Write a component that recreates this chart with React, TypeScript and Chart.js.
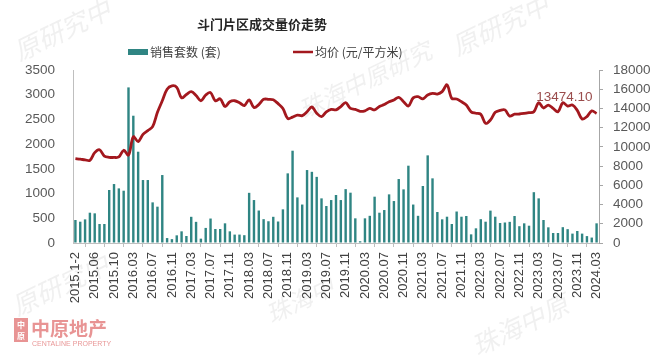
import React, { useEffect, useRef } from 'react';
import { Chart, registerables } from 'chart.js';

Chart.register(...registerables);

const titleText = '斗门片区成交量价走势';
const barLegend = '销售套数 (套)';
const lineLegend = '均价 (元/平方米)';
const lastLabel = '13474.10';

const categories = [
  '2015.1-2', '2015.03', '2015.04', '2015.05', '2015.06', '2015.07', '2015.08', '2015.09', '2015.10', '2015.11', '2015.12',
  '2016.1-2', '2016.03', '2016.04', '2016.05', '2016.06', '2016.07', '2016.08', '2016.09', '2016.10', '2016.11', '2016.12',
  '2017.01', '2017.02', '2017.03', '2017.04', '2017.05', '2017.06', '2017.07', '2017.08', '2017.09', '2017.10', '2017.11', '2017.12',
  '2018.01', '2018.02', '2018.03', '2018.04', '2018.05', '2018.06', '2018.07', '2018.08', '2018.09', '2018.10', '2018.11', '2018.12',
  '2019.01', '2019.02', '2019.03', '2019.04', '2019.05', '2019.06', '2019.07', '2019.08', '2019.09', '2019.10', '2019.11', '2019.12',
  '2020.01', '2020.02', '2020.03', '2020.04', '2020.05', '2020.06', '2020.07', '2020.08', '2020.09', '2020.10', '2020.11', '2020.12',
  '2021.01', '2021.02', '2021.03', '2021.04', '2021.05', '2021.06', '2021.07', '2021.08', '2021.09', '2021.10', '2021.11', '2021.12',
  '2022.01', '2022.02', '2022.03', '2022.04', '2022.05', '2022.06', '2022.07', '2022.08', '2022.09', '2022.10', '2022.11', '2022.12',
  '2023.01', '2023.02', '2023.03', '2023.04', '2023.05', '2023.06', '2023.07', '2023.08', '2023.09', '2023.10', '2023.11', '2023.12',
  '2024.01', '2024.02', '2024.03',
];

const shownTickLabels = [
  '2015.1-2', '2015.06', '2015.10', '2016.03', '2016.07', '2016.11', '2017.03', '2017.07', '2017.11',
  '2018.03', '2018.07', '2018.11', '2019.03', '2019.07', '2019.11', '2020.03', '2020.07', '2020.11',
  '2021.03', '2021.07', '2021.11', '2022.03', '2022.07', '2022.11', '2023.03', '2023.07', '2023.11', '2024.03',
];

const salesUnits = [
  465, 431, 478, 613, 600, 384, 384, 1072, 1193, 1105, 1058, 3148, 2575, 1847, 1274, 1274, 822, 735, 1375, 100, 78, 155,
  236, 142, 530, 428, 88, 305, 495, 283, 283, 398, 236, 170, 170, 158, 1015, 869, 657, 482, 440, 530, 435, 681,
  1409, 1867, 923, 778, 1476, 1440, 1338, 903, 748, 869, 971, 869, 1090, 1018, 499, 35, 499, 550, 937, 613, 667, 984,
  849, 1294, 1085, 1564, 778, 550, 1153, 1773, 1308, 627, 479, 532, 384, 637, 532, 546, 175, 297, 482, 431, 655, 532,
  405, 415, 428, 546, 340, 398, 350, 1028, 903, 465, 317, 202, 202, 320, 280, 190, 243, 190, 140, 110, 398,
];

const avgPrice = [
  8780, 8720, 8650, 8600, 9400, 9700, 9050, 8920, 8900, 8950, 9650, 9150, 11050, 10550, 11300, 11700, 12100, 13600, 14800, 16000, 16350, 16200,
  15100, 15450, 15750, 15350, 14800, 15400, 15650, 14800, 15000, 14200, 14700, 14800, 14600, 14300, 14900, 14100, 14400, 14950, 14950, 14900, 14500, 14000,
  12950, 13100, 13300, 13250, 13650, 14150, 13500, 13150, 13650, 13900, 13850, 14200, 14600, 14000, 13900, 13700, 13750, 14000, 13850, 14200, 14400,
  14700, 14880, 15150, 14700, 14250, 15100, 15220, 15000, 15400, 15570, 15500, 15750, 16450, 15050, 14980, 14700, 14350, 13650, 13500, 13400, 12450, 12800,
  13600, 13800, 13850, 13200, 13400, 13420, 13480, 13560, 13650, 14600, 14050, 14350, 14000, 13650, 14600, 14250, 14350, 13800, 12900, 13150, 13750, 13474.1,
];

const leftTicks = { min: 0, max: 3500, step: 500 };
const rightTicks = { min: 0, max: 18000, step: 2000 };

const BAR_COLOR = '#2f8583';
const LINE_COLOR = '#a3181e';
const TICK_COLOR = '#595959';
const FONT = '"Liberation Sans", Arial, sans-serif';
const CJK = '"Noto Sans CJK SC", "Noto Sans", sans-serif';

const watermarks = [
  { text: '原研究中', x: 62, y: 30, size: 26 },
  { text: '原研究中', x: 500, y: 25, size: 26 },
  { text: '珠海中原研究', x: 365, y: 80, size: 24 },
  { text: '原研究中', x: 60, y: 285, size: 26 },
  { text: '珠海中原', x: 520, y: 325, size: 26 },
  { text: '珠海中', x: 300, y: 300, size: 24 },
];

const decorPlugin = {
  id: 'decor',
  beforeDraw(chart: any) {
    const ctx = chart.ctx;
    ctx.save();
    ctx.fillStyle = '#ffffff';
    ctx.fillRect(0, 0, chart.width, chart.height);
    ctx.fillStyle = 'rgba(150,150,150,0.14)';
    ctx.textAlign = 'center';
    ctx.textBaseline = 'middle';
    for (const w of watermarks) {
      ctx.save();
      ctx.translate(w.x, w.y);
      ctx.rotate(-0.45);
      ctx.font = `italic ${w.size}px ${CJK}`;
      ctx.fillText(w.text, 0, 0);
      ctx.restore();
    }
    // logo
    ctx.fillStyle = 'rgba(214,60,60,0.55)';
    ctx.fillRect(14, 318, 14, 24);
    ctx.fillStyle = '#ffffff';
    ctx.font = `bold 8px ${CJK}`;
    ctx.fillText('中', 21, 325);
    ctx.fillText('原', 21, 336);
    ctx.fillStyle = 'rgba(214,60,60,0.55)';
    ctx.textAlign = 'left';
    ctx.font = `bold 19px ${CJK}`;
    ctx.fillText('中原地产', 31, 329);
    ctx.font = `7px ${FONT}`;
    ctx.fillText('CENTALINE PROPERTY', 32, 344);
    ctx.restore();
  },
  afterDraw(chart: any) {
    const ctx = chart.ctx;
    ctx.save();
    ctx.textBaseline = 'middle';
    // title
    ctx.fillStyle = '#262626';
    ctx.textAlign = 'center';
    ctx.font = `bold 13px ${CJK}`;
    ctx.fillText(titleText, 262, 24);
    // legend
    ctx.textAlign = 'left';
    ctx.font = `12px ${CJK}`;
    ctx.fillStyle = BAR_COLOR;
    ctx.fillRect(128, 49, 20, 6);
    ctx.fillStyle = '#404040';
    ctx.fillText(barLegend, 150, 52);
    ctx.strokeStyle = LINE_COLOR;
    ctx.lineWidth = 2.5;
    ctx.beginPath();
    ctx.moveTo(293, 52);
    ctx.lineTo(313, 52);
    ctx.stroke();
    ctx.fillText(lineLegend, 315, 52);
    // data label on last point
    const meta = chart.getDatasetMeta(0);
    const last = meta.data[meta.data.length - 1];
    if (last) {
      ctx.textAlign = 'right';
      ctx.font = `13.5px ${FONT}`;
      ctx.fillStyle = '#9a4c4c';
      ctx.fillText(lastLabel, last.x - 4, last.y - 16);
    }
    ctx.restore();
  },
};

export default function App() {
  const ref = useRef<HTMLCanvasElement | null>(null);

  useEffect(() => {
    if (!ref.current) return;
    const chart = new Chart(ref.current, {
      type: 'bar',
      data: {
        labels: categories,
        datasets: [
          {
            type: 'line',
            label: lineLegend,
            data: avgPrice,
            yAxisID: 'y1',
            borderColor: LINE_COLOR,
            borderWidth: 2.8,
            pointRadius: 0,
            tension: 0.35,
            order: 0,
          } as any,
          {
            type: 'bar',
            label: barLegend,
            data: salesUnits,
            yAxisID: 'y',
            backgroundColor: BAR_COLOR,
            barPercentage: 0.5,
            categoryPercentage: 1,
            order: 1,
          },
        ],
      },
      options: {
        responsive: false,
        animation: false,
        layout: { padding: { top: 70, left: 0, right: 0, bottom: 0 } },
        plugins: {
          legend: { display: false },
          title: { display: false },
          tooltip: { enabled: false },
        },
        scales: {
          x: {
            offset: true,
            grid: { display: true, drawOnChartArea: false, drawTicks: true, tickLength: 4, color: '#bfbfbf' },
            border: { display: true, color: '#bfbfbf' },
            ticks: {
              autoSkip: false,
              maxRotation: 90,
              minRotation: 90,
              padding: 5,
              color: '#404040',
              font: { family: FONT, size: 13 },
              callback: (_v: any, i: number) => (shownTickLabels.includes(categories[i]) ? categories[i] : null),
            },
            afterFit: (s: any) => { s.height = 115; },
          },
          y: {
            position: 'left',
            min: leftTicks.min,
            max: leftTicks.max,
            grid: { display: true, drawOnChartArea: false, drawTicks: false },
            border: { display: true, color: '#bfbfbf' },
            ticks: {
              stepSize: leftTicks.step,
              padding: 18,
              color: TICK_COLOR,
              font: { family: FONT, size: 13.5 },
              callback: (v: any) => String(v),
            },
            afterFit: (s: any) => { s.width = 73; },
          },
          y1: {
            position: 'right',
            min: rightTicks.min,
            max: rightTicks.max,
            grid: { display: true, drawOnChartArea: false, drawTicks: true, tickLength: 4, color: '#a6a6a6' },
            border: { display: true, color: '#a6a6a6' },
            ticks: {
              stepSize: rightTicks.step,
              padding: 10,
              color: TICK_COLOR,
              font: { family: FONT, size: 13.5 },
              callback: (v: any) => String(v),
            },
            afterFit: (s: any) => { s.width = 64; },
          },
        },
      },
      plugins: [decorPlugin],
    });
    return () => chart.destroy();
  }, []);

  return (
    <div style={{ position: 'fixed', left: 0, top: 0, width: 663, height: 358, background: '#fff' }}>
      <canvas ref={ref} width={663} height={358} style={{ display: 'block' }} />
    </div>
  );
}
